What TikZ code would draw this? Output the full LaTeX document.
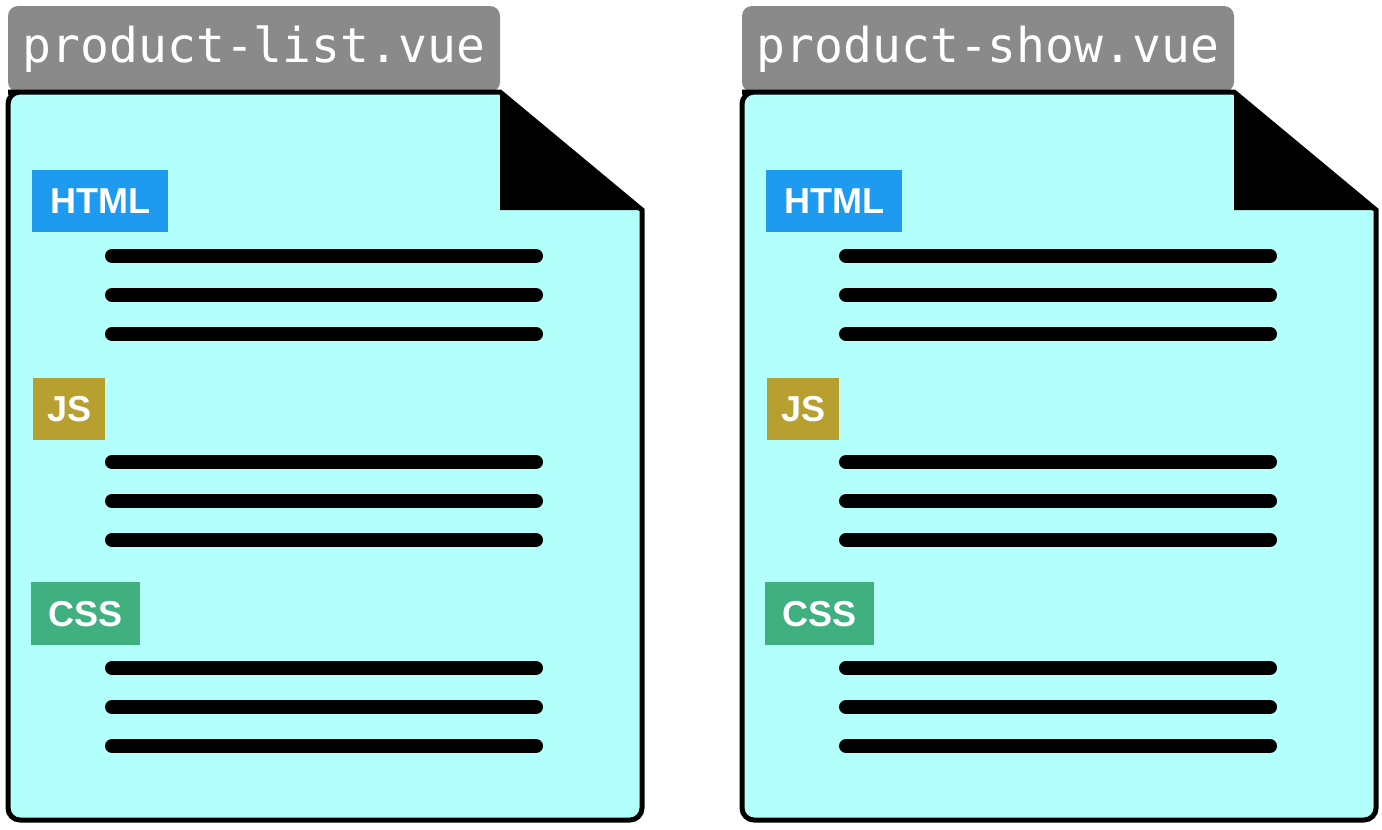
\documentclass[tikz,border=0pt]{standalone}
\usepackage{fontspec}
\setmainfont{Liberation Sans}
\setmonofont{DejaVu Sans Mono}
\usepackage{xcolor}
\usetikzlibrary{positioning}
\definecolor{paper}{HTML}{B3FFFC}
\definecolor{tabgray}{HTML}{8A8A8A}
\definecolor{htmlblue}{HTML}{1E9BF0}
\definecolor{jsolive}{HTML}{B8A030}
\definecolor{cssgreen}{HTML}{40B080}
\begin{document}
\begin{tikzpicture}[
    x=1pt, y=-1pt,
    tab/.style={fill=tabgray, rounded corners=10pt},
    doc/.style={draw, line width=5pt, fill=paper, line join=miter},
    tag/.style={anchor=north west, inner sep=0pt, text=white, font=\bfseries\fontsize{36}{36}\selectfont},
    codeline/.style={line width=14pt, line cap=round},
]
    \useasboundingbox (0,0) rectangle (1382,830);
    \foreach \dx/\fname/\id in {0/product-list.vue/l, 734/product-show.vue/s} {
        \begin{scope}[shift={(\dx,0)}]
            \fill[tab] (8,92) -- (8,6) -- (500,6) -- (500,92) -- cycle;
            \node[text=white, font=\ttfamily\fontsize{48}{48}\selectfont] (name\id) at (254,49) {\fname};
            \draw[doc] (20,92) -- (500,92) -- (642,210)
                [rounded corners=12pt] -- (642,820) -- (8,820) -- (8,92) -- cycle;
            \fill (500,92) -- (500,210) -- (642,210) -- cycle;
            \node[tag, fill=htmlblue, minimum width=136pt, minimum height=62pt] (html\id) at (32,170) {HTML};
            \node[tag, fill=jsolive, minimum width=72pt, minimum height=62pt] (js\id) at (33,378) {JS};
            \node[tag, fill=cssgreen, minimum width=109pt, minimum height=63pt] (css\id) at (31,582) {CSS};
            \foreach \y in {256,295,334,462,501,540,668,707,746}
                \draw[codeline] (112,\y) -- (536,\y);
        \end{scope}
    }
\end{tikzpicture}
\end{document}
